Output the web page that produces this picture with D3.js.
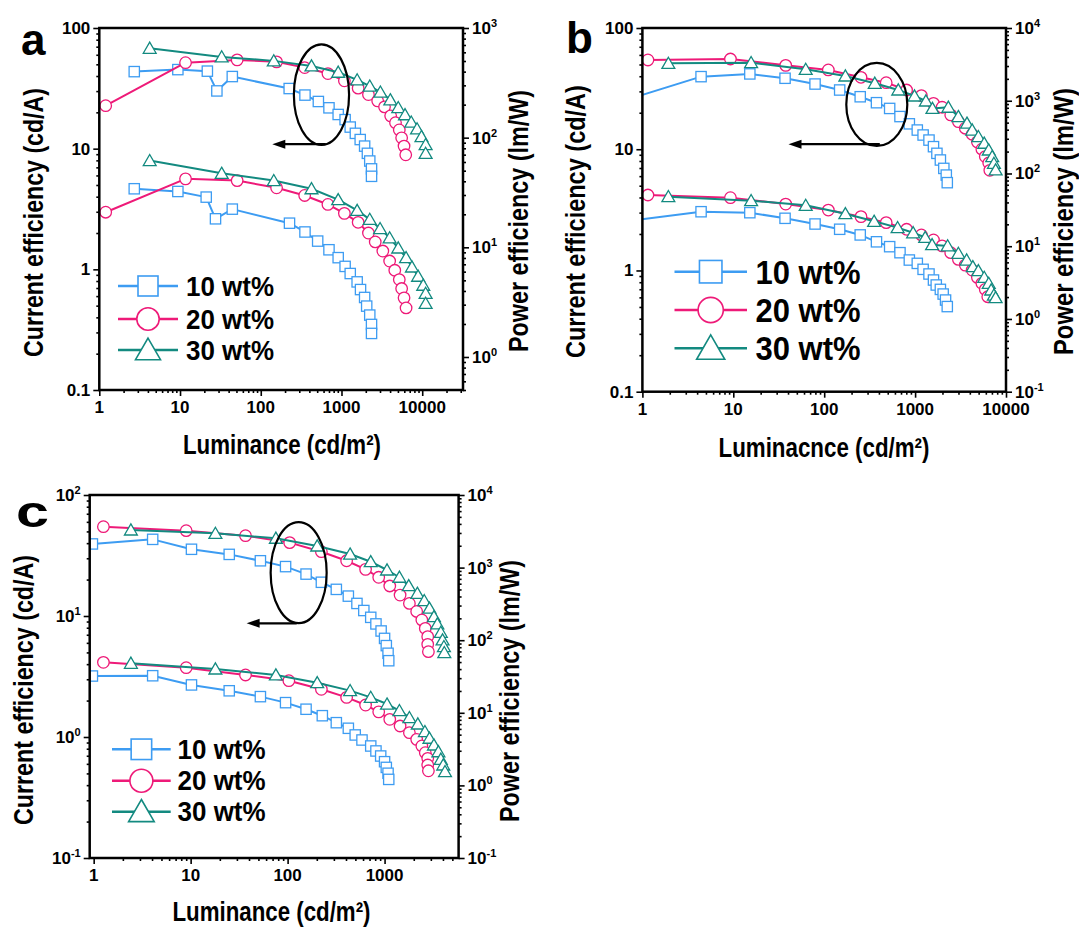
<!DOCTYPE html>
<html>
<head>
<meta charset="utf-8">
<script src="https://cdn.jsdelivr.net/npm/d3@7"></script>
<style>
body { margin: 0; background: #fff; }
text { font-family: Arial, "Liberation Sans", sans-serif; font-weight: bold; fill: #000; }
</style>
</head>
<body>
<svg id="chart" width="1079" height="929"></svg>
<script>
const seriesNames = ["10 wt%", "20 wt%", "30 wt%"];
const seriesColors = ["#3d9cf2", "#ee1a78", "#138a80"];
const seriesMarkers = ["square", "circle", "triangle"];

// panel a: [luminance, efficiency]
const a10CE = [[2.71,43.5],[9.4,45.2],[21.8,43.9],[28.6,30.1],[44.4,39.6],[225,31.5],[353,27.8],[517,24.6],[700,21.8],[910,19.2],[1109,17.4],[1283,15.1],[1486,13.4],[1706,11.9],[1935,10.5],[2094,9.15],[2240,7.9],[2355,6.8],[2355,5.9]];
const a20CE = [[1.20,22.7],[11.7,51.6],[51,54.4],[157,52.4],[350,47],[679,41.9],[1086,36.5],[1608,31.7],[2157,28.1],[2806,24.9],[3412,22.2],[4064,18.7],[4667,16.4],[5200,14.3],[5560,12.3],[5955,10.5],[6250,8.9]];
const a30CE = [[4.21,67.9],[32.8,57.6],[145,53.4],[425,48.5],[910,43],[1563,37.2],[2240,33],[3033,29.4],[4027,25.4],[5047,21.9],[6124,19.1],[7311,16.6],[8630,14.6],[9790,12.6],[11020,10.8],[11020,9.15]];
const a10PE = [[2.71,34.2],[9.4,32.3],[21.1,28.7],[27.5,18.2],[44.4,22.3],[227,16.6],[353,13.8],[507,11.4],[700,9.5],[910,8.05],[1109,6.7],[1283,5.77],[1563,4.84],[1721,4.12],[1935,3.49],[2052,2.91],[2240,2.41],[2355,1.98],[2355,1.64]];
const a20PE = [[1.20,20.9],[11.7,42.1],[51,40.6],[157,34.9],[350,29.7],[679,24.6],[1086,20.4],[1608,16.9],[2157,13.5],[2618,11.2],[3251,9.25],[3948,7.5],[4571,6.18],[5200,5.08],[5560,4.21],[5955,3.46],[6310,2.8]];
const a30PE = [[4.21,61.8],[32.8,47.3],[145,40.6],[425,34.2],[910,27.2],[1563,21.7],[2240,18],[3005,14.8],[3948,12.2],[5047,9.86],[6310,8.05],[7460,6.62],[8890,5.45],[10300,4.51],[11020,3.8],[11020,3.08]];

// panel b
const b10CE = [[0.85,27],[4.42,39.7],[15.2,41.8],[37.1,38.5],[79.3,34.5],[148,30.8],[249,27.1],[376,24.2],[525,21.7],[682,18.6],[864,16.2],[1057,14.4],[1225,13.1],[1422,11.9],[1593,10.5],[1738,9.25],[1897,8.15],[2070,6.95],[2203,6.12],[2259,5.3]];
const b20CE = [[1.15,54.5],[9.3,55.5],[37.7,49.2],[111,45.1],[254,39.2],[481,35.4],[806,30.8],[1173,27.7],[1593,23.9],[1983,22.2],[2466,19.2],[2992,16.9],[3565,14.9],[4246,13.3],[4842,11.5],[5425,10.0],[5917,8.7],[6457,7.7],[6633,6.7]];
const b30CE = [[1.93,51.1],[15.7,51.8],[62.6,45.6],[171,40.2],[360,35.0],[653,30.8],[985,27.5],[1314,25.0],[1552,21.7],[2321,22.2],[2992,18.6],[3725,16.4],[4246,14.4],[4966,12.7],[5763,11.2],[6457,9.86],[7047,8.7],[7362,7.65],[7690,6.75]];
const b10PE = [[0.85,22.9],[4.42,29.8],[15.2,28.9],[37.1,24.2],[79.3,20.2],[148,17.1],[249,14.3],[376,11.5],[525,9.86],[682,8.15],[864,6.46],[1057,5.81],[1225,4.81],[1422,4.15],[1593,3.43],[1709,2.93],[1897,2.55],[2036,2.2],[2163,1.82],[2259,1.48]];
const b20PE = [[1.15,50.6],[9.3,46.5],[37.7,38.0],[111,31.4],[254,25.5],[481,21.1],[806,17.1],[1173,14.3],[1593,12.2],[1983,10.1],[2466,8.15],[2992,6.6],[3565,5.5],[4246,4.7],[4842,3.73],[5425,3.09],[5917,2.55],[6300,2.02]];
const b30PE = [[1.93,48.0],[15.7,42.3],[62.6,36.5],[171,28.0],[354,22.0],[642,18.0],[951,15.3],[1292,13.2],[1538,10.5],[2280,10.1],[2992,7.98],[3690,6.46],[4317,5.23],[4966,4.61],[5763,3.73],[6457,3.09],[6870,2.5],[7362,2.13],[7690,1.96]];

// panel c
const c10CE = [[0.97,39.4],[4.06,43.0],[10.2,35.6],[25.0,32.3],[52.4,28.6],[95.3,25.6],[155,22.2],[223,19.0],[318,16.6],[423,14.6],[519,12.7],[611,11.1],[720,9.75],[815,8.6],[921,7.52],[1000,6.53],[1042,5.69],[1086,4.92],[1104,4.27]];
const c20CE = [[1.26,54.7],[9.0,50.7],[36.8,46.1],[105,40.4],[223,34.0],[406,28.6],[637,24.3],[870,20.9],[1131,17.7],[1445,14.9],[1803,12.7],[2143,10.9],[2423,9.27],[2630,7.9],[2786,6.75],[2786,5.83],[2831,5.07]];
const c30CE = [[2.42,51.4],[18.0,48.2],[75.7,43.9],[202,37.9],[441,32.5],[720,28.1],[1060,24.0],[1422,20.9],[1775,17.8],[2178,15.4],[2565,13.4],[2904,11.6],[3230,9.87],[3500,8.6],[3802,7.33],[3963,6.34],[4093,5.58],[4130,4.98]];
const c10PE = [[0.97,32.1],[4.06,32.4],[10.2,24.2],[25.0,20.1],[52.4,16.7],[95.3,13.8],[155,11.2],[228,9.12],[318,7.31],[423,6.12],[498,4.95],[585,4.22],[720,3.49],[815,2.98],[912,2.54],[1000,2.12],[1042,1.77],[1086,1.47],[1104,1.21]];
const c20PE = [[1.26,49.6],[9.0,41.8],[36.8,33.2],[103,27.7],[223,21.1],[406,16.3],[637,12.8],[870,10.3],[1131,8.13],[1445,6.58],[1803,5.32],[2143,4.31],[2423,3.49],[2630,2.82],[2786,2.36],[2786,1.91],[2831,1.59]];
const c30PE = [[2.42,48.1],[18.0,40.1],[75.7,33.2],[202,26.0],[441,20.2],[720,16.3],[1060,13.2],[1422,10.7],[1803,8.57],[2203,7.01],[2607,5.5],[2904,4.46],[3230,3.6],[3590,2.91],[3802,2.29],[4030,1.91],[4200,1.55]];

const panels = [
  { id: "a", box: [99.3, 28, 463, 390], xDom: [1, 32000], ceDom: [0.1, 100], peDom: [0.5, 1000], supLeft: false,
    ce: [a10CE, a20CE, a30CE], pe: [a10PE, a20PE, a30PE],
    xTitle: "Luminance (cd/m²)", xTitlePos: [282, 454, 198],
    leftTitle: [43, 222.5, 269], rightTitle: [527.6, 221, 262],
    letter: [21, 55, 44, null],
    legend: { x0: 118, x1: 178, mx: 148, tx: 186, rows: [286, 319, 350], font: 27, tlen: 88, ms: 20 },
    oval: { lum: 565, v: 28, rx: 27.6, ry: 50.3 }, arrow: { from: 637, to: 139, v: 10.9 } },
  { id: "b", box: [642.4, 28, 1006, 391.7], xDom: [1, 10000], ceDom: [0.1, 100], peDom: [0.1, 10000], supLeft: false,
    ce: [b10CE, b20CE, b30CE], pe: [b10PE, b20PE, b30PE],
    xTitle: "Luminacnce (cd/m²)", xTitlePos: [824, 457, 211],
    leftTitle: [585, 221.6, 273], rightTitle: [1072.8, 221.5, 267],
    letter: [566, 53, 44, null],
    legend: { x0: 674.5, x1: 747, mx: 710.7, tx: 755.5, rows: [271.7, 310, 348.3], font: 33, tlen: 105, ms: 22.5 },
    oval: { lum: 379, v: 23.4, rx: 30.5, ry: 41.5 }, arrow: { from: 409, to: 40.5, v: 11 } },
  { id: "c", box: [89.7, 495, 458.6, 858], xDom: [0.91, 5800], ceDom: [0.1, 100], peDom: [0.1, 10000], supLeft: true,
    ce: [c10CE, c20CE, c30CE], pe: [c10PE, c20PE, c30PE],
    xTitle: "Luminance (cd/m²)", xTitlePos: [271.5, 921, 198],
    leftTitle: [33, 690, 270], rightTitle: [519, 691, 262],
    letter: [16, 527, 44, 33],
    legend: { x0: 112, x1: 170.7, mx: 141.4, tx: 177.6, rows: [749.3, 780.7, 811.7], font: 27, tlen: 88, ms: 20.5 },
    oval: { lum: 130, v: 22.8, rx: 28, ry: 50.5 }, arrow: { from: 124, to: 37.8, v: 8.7 } }
];

const svg = d3.select("#chart");

function logTicks(dom) {
  const maj = [], min = [];
  const lo = dom[0], hi = dom[1];
  for (let k = Math.floor(Math.log10(lo)); k <= Math.ceil(Math.log10(hi)); k++) {
    for (let m = 1; m < 10; m++) {
      const v = m * Math.pow(10, k);
      if (v >= lo * 0.999 && v <= hi * 1.001) (m === 1 ? maj : min).push(v);
    }
  }
  return { maj, min };
}

function drawMarker(sel, kind, s) {
  if (kind === "square") {
    sel.append("rect").attr("x", -s / 2).attr("y", -s / 2).attr("width", s).attr("height", s);
  } else if (kind === "circle") {
    sel.append("circle").attr("r", s * 0.56);
  } else {
    const w = s * 1.25, h = s * 1.08;
    sel.append("path").attr("d", `M0,${-h * 0.55}L${w / 2},${h * 0.45}L${-w / 2},${h * 0.45}Z`);
  }
}

function supLabel(sel, v) {
  const e = Math.round(Math.log10(v));
  sel.append("tspan").text("10");
  sel.append("tspan").attr("dy", -7).style("font-size", "11px").text(e);
}

function plainLabel(v) {
  return v < 1 ? "0.1" : String(v);
}

function drawPanel(p) {
  const [x0, y0, x1, y1] = p.box;
  const g = svg.append("g");
  const xs = d3.scaleLog().domain(p.xDom).range([x0, x1]);
  const yl = d3.scaleLog().domain(p.ceDom).range([y1, y0]);
  const yr = d3.scaleLog().domain(p.peDom).range([y1, y0]);

  const clipId = "clip-" + p.id;
  g.append("clipPath").attr("id", clipId)
    .append("rect").attr("x", x0).attr("y", y0).attr("width", x1 - x0).attr("height", y1 - y0);

  // ticks with d3 axes
  const xt = logTicks(p.xDom), lt = logTicks(p.ceDom), rt = logTicks(p.peDom);
  const axes = [
    [d3.axisBottom(xs).tickValues(xt.maj).tickSize(6), `translate(0,${y1})`],
    [d3.axisBottom(xs).tickValues(xt.min).tickSize(3), `translate(0,${y1})`],
    [d3.axisLeft(yl).tickValues(lt.maj).tickSize(6), `translate(${x0},0)`],
    [d3.axisLeft(yl).tickValues(lt.min).tickSize(3), `translate(${x0},0)`],
    [d3.axisRight(yr).tickValues(rt.maj).tickSize(6), `translate(${x1},0)`],
    [d3.axisRight(yr).tickValues(rt.min).tickSize(3), `translate(${x1},0)`]
  ];
  axes.forEach(([ax, tr]) => {
    const a = g.append("g").attr("transform", tr).call(ax.tickFormat("").tickSizeOuter(0));
    a.select(".domain").remove();
    a.selectAll("line").attr("stroke", "#000").attr("stroke-width", 1.6);
  });

  // tick labels
  g.selectAll(null).data(xt.maj).join("text")
    .attr("x", d => xs(d)).attr("y", y1 + 23)
    .attr("text-anchor", "middle").style("font-size", "17px")
    .text(d => plainLabel(d));
  g.selectAll(null).data(lt.maj).join("text")
    .attr("x", x0 - 9).attr("y", d => yl(d) + 6)
    .attr("text-anchor", "end").style("font-size", "17px")
    .each(function(d) {
      if (p.supLeft) supLabel(d3.select(this), d);
      else d3.select(this).text(plainLabel(d));
    });
  g.selectAll(null).data(rt.maj).join("text")
    .attr("x", x1 + 9).attr("y", d => yr(d) + 6)
    .style("font-size", "17px")
    .each(function(d) { supLabel(d3.select(this), d); });

  // series
  const plot = g.append("g").attr("clip-path", `url(#${clipId})`);
  const groups = [[p.ce, yl], [p.pe, yr]];
  groups.forEach(([sets, ys]) => {
    sets.forEach((data, i) => {
      const line = d3.line().x(d => xs(d[0])).y(d => ys(d[1]));
      plot.append("path").datum(data).attr("d", line)
        .attr("fill", "none").attr("stroke", seriesColors[i]).attr("stroke-width", 2)
        .attr("stroke-linejoin", "round");
      plot.selectAll(null).data(data).join("g")
        .attr("transform", d => `translate(${xs(d[0])},${ys(d[1])})`)
        .attr("fill", "#fff").attr("stroke", seriesColors[i]).attr("stroke-width", 1.3)
        .each(function() { drawMarker(d3.select(this), seriesMarkers[i], 10.3); });
    });
  });

  // frame
  g.append("rect").attr("x", x0).attr("y", y0).attr("width", x1 - x0).attr("height", y1 - y0)
    .attr("fill", "none").attr("stroke", "#000").attr("stroke-width", 2.5);

  // oval and arrow
  const ox = xs(p.oval.lum), oy = yl(p.oval.v);
  g.append("ellipse").attr("cx", ox).attr("cy", oy).attr("rx", p.oval.rx).attr("ry", p.oval.ry)
    .attr("fill", "none").attr("stroke", "#000").attr("stroke-width", 2.2);
  const ay = yl(p.arrow.v), ax0 = xs(p.arrow.from), ax1 = xs(p.arrow.to);
  g.append("line").attr("x1", ax0).attr("x2", ax1 + 10).attr("y1", ay).attr("y2", ay)
    .attr("stroke", "#000").attr("stroke-width", 2.2);
  g.append("path").attr("d", `M${ax1},${ay}L${ax1 + 13},${ay - 4.5}L${ax1 + 13},${ay + 4.5}Z`).attr("fill", "#000");

  // legend
  const L = p.legend;
  L.rows.forEach((ry, i) => {
    g.append("line").attr("x1", L.x0).attr("x2", L.x1).attr("y1", ry).attr("y2", ry)
      .attr("stroke", seriesColors[i]).attr("stroke-width", 2.4);
    const m = g.append("g").attr("transform", `translate(${L.mx},${ry})`)
      .attr("fill", "#fff").attr("stroke", seriesColors[i]).attr("stroke-width", 1.6);
    drawMarker(m, seriesMarkers[i], L.ms);
    g.append("text").attr("x", L.tx).attr("y", ry + L.font * 0.36)
      .style("font-size", L.font + "px")
      .attr("textLength", L.tlen).attr("lengthAdjust", "spacingAndGlyphs")
      .text(seriesNames[i]);
  });

  // titles
  const [tx, ty, tl] = p.xTitlePos;
  g.append("text").attr("x", tx).attr("y", ty).attr("text-anchor", "middle")
    .style("font-size", "28px").attr("textLength", tl).attr("lengthAdjust", "spacingAndGlyphs")
    .text(p.xTitle);
  [[p.leftTitle, "Current efficiency (cd/A)"], [p.rightTitle, "Power efficiency (lm/W)"]].forEach(([pos, t]) => {
    g.append("text").attr("transform", `translate(${pos[0]},${pos[1]}) rotate(-90)`)
      .attr("text-anchor", "middle").style("font-size", "28px")
      .attr("textLength", pos[2]).attr("lengthAdjust", "spacingAndGlyphs")
      .text(t);
  });

  // panel letter
  const lt2 = g.append("text").attr("x", p.letter[0]).attr("y", p.letter[1])
    .style("font-size", p.letter[2] + "px").text(p.id);
  if (p.letter[3]) lt2.attr("textLength", p.letter[3]).attr("lengthAdjust", "spacingAndGlyphs");
}

panels.forEach(drawPanel);
</script>
</body>
</html>
